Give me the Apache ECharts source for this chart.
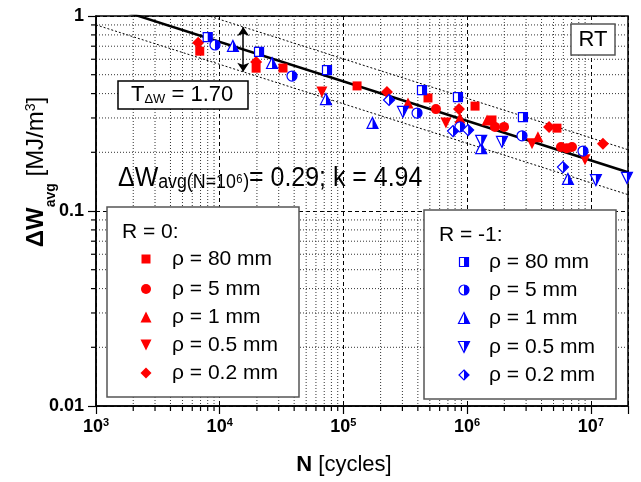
<!DOCTYPE html>
<html>
<head>
<meta charset="utf-8">
<script src="https://cdn.jsdelivr.net/npm/echarts@6/dist/echarts.min.js"></script>
<style>
  html, body { margin: 0; padding: 0; background: #fff; }
  #chart { width: 641px; height: 482px; }
</style>
</head>
<body>
<div id="chart"></div>
<script>
const FONT = 'Liberation Sans, Arial, sans-serif';

// axes
const xDecades = [1e3, 1e4, 1e5, 1e6, 1e7];
const yDecades = [0.01, 0.1, 1];
const yTickLabels = ['0.01', '0.1', '1'];
const minorSteps = [2, 3, 4, 5, 6, 7, 8, 9];

// fit parameters shown in the figure
const fitAvgAt1e6 = 0.29;
const fitK = 4.94;
const scatterT = 1.70;
const fitN = [1e3, 2e7];
const arrowN = 1.55e4;

// R = 0 (filled red)
const r0Rho80 = [[6.9e3, 0.66], [1.97e4, 0.54], [3.25e4, 0.541], [1.29e5, 0.438], [4.83e5, 0.38], [1.16e6, 0.345], [1.59e6, 0.293], [5.33e6, 0.266]];
const r0Rho5 = [[5.6e5, 0.333], [1.68e6, 0.27], [1.99e6, 0.27], [5.74e6, 0.213], [6.4e6, 0.21], [7.05e6, 0.213]];
const r0Rho1 = [[3.33e5, 0.358], [8.76e5, 0.30], [1.45e6, 0.293], [3.74e6, 0.24]];
const r0Rho05 = [[6.7e4, 0.408], [6.75e5, 0.283], [3.35e6, 0.221], [8.98e6, 0.183]];
const r0Rho02 = [[6.7e3, 0.73], [1.97e4, 0.581], [2.25e5, 0.408], [8.6e5, 0.333], [4.6e6, 0.27], [1.255e7, 0.221]];

// R = -1 (half filled blue)
const rm1Rho80 = [[8.0e3, 0.78], [2.08e4, 0.654], [7.37e4, 0.528], [4.32e5, 0.417], [8.44e5, 0.384], [2.83e6, 0.303]];
const rm1Rho5 = [[9.16e3, 0.71], [3.84e4, 0.492], [3.94e5, 0.318], [8.76e5, 0.27], [2.78e6, 0.243], [8.65e6, 0.203]];
const rm1Rho1 = [[1.28e4, 0.702], [2.65e4, 0.574], [7.23e4, 0.375], [1.72e5, 0.283], [1.3e6, 0.21], [6.54e6, 0.146]];
const rm1Rho05 = [[3.03e5, 0.322], [1.3e6, 0.229], [1.915e6, 0.226], [1.1e7, 0.144], [1.96e7, 0.148]];
const rm1Rho02 = [[2.34e5, 0.371], [7.7e5, 0.257], [1.02e6, 0.26], [5.96e6, 0.168]];

const rhoLabels = ['ρ = 80 mm', 'ρ = 5 mm', 'ρ = 1 mm', 'ρ = 0.5 mm', 'ρ = 0.2 mm'];
const shapes = ['square', 'circle', 'up', 'down', 'diamond'];

const xMinor = [];
xDecades.forEach(d => minorSteps.forEach(m => { if (d * m < 2e7) xMinor.push(d * m); }));
const yMinor = [];
yDecades.slice(0, 2).forEach(d => minorSteps.forEach(m => yMinor.push(d * m)));

const bandF = Math.sqrt(scatterT);
const fitW = (n, f) => f * fitAvgAt1e6 * Math.pow(n / 1e6, -1 / fitK);

const fullPath = {
  square: 'path://M0 0L10 0L10 10L0 10Z',
  circle: 'circle',
  up: 'path://M5 0L10 10L0 10Z',
  down: 'path://M0 0L10 0L5 10Z',
  diamond: 'path://M5 0L10 5L5 10L0 5Z'
};
// right half only; the zero-area stroke keeps the full bounding box
const halfPath = {
  square: 'path://M5 0L10 0L10 10L5 10Z M0 0L0 10',
  circle: 'path://M5 0A5 5 0 0 1 5 10Z M0 5L0 5.01',
  up: 'path://M5 0L10 10L5 10Z M0 10L0 9.99',
  down: 'path://M5 0L10 0L5 10Z M0 0L0 0.01',
  diamond: 'path://M5 0L10 5L5 10Z M0 5L0 5.01'
};
const redSymbol = { square: 'rect', circle: 'circle', up: 'triangle', down: fullPath.down, diamond: 'diamond' };
const redSize = { square: 9, circle: 10, up: 11, down: 11, diamond: 12 };
const blueSize = { square: 9, circle: 10, up: 11, down: 11, diamond: 11 };

const series = [];

// minor grid lines + minor ticks
series.push({
  type: 'custom', coordinateSystem: 'cartesian2d', silent: true, z: 1,
  data: xMinor.map(v => [v, 0.1]), encode: { x: 0, y: 1 },
  renderItem: (params, api) => {
    const v = api.value(0);
    const top = api.coord([v, 1]);
    const bot = api.coord([v, 0.01]);
    return { type: 'group', children: [
      { type: 'line', shape: { x1: top[0], y1: top[1], x2: bot[0], y2: bot[1] }, style: { stroke: '#333', lineWidth: 1, lineDash: [1, 2] } },
      { type: 'line', shape: { x1: bot[0], y1: bot[1], x2: bot[0], y2: bot[1] + 5 }, style: { stroke: '#000', lineWidth: 1.2 } }
    ] };
  }
});
series.push({
  type: 'custom', coordinateSystem: 'cartesian2d', silent: true, z: 1,
  data: yMinor.map(v => [1e5, v]), encode: { x: 0, y: 1 },
  renderItem: (params, api) => {
    const v = api.value(1);
    const l = api.coord([1e3, v]);
    const r = api.coord([2e7, v]);
    return { type: 'group', children: [
      { type: 'line', shape: { x1: l[0], y1: l[1], x2: r[0], y2: r[1] }, style: { stroke: '#333', lineWidth: 1, lineDash: [1, 2] } },
      { type: 'line', shape: { x1: l[0] - 5, y1: l[1], x2: l[0], y2: l[1] }, style: { stroke: '#000', lineWidth: 1.2 } }
    ] };
  }
});

// fit line and scatter band
series.push({
  type: 'line', silent: true, z: 3, symbol: 'none',
  data: fitN.map(n => [n, fitW(n, 1)]),
  lineStyle: { color: '#000', width: 2.5 },
  markLine: {
    silent: true, symbol: ['arrow', 'arrow'], symbolSize: 9,
    label: { show: false },
    lineStyle: { color: '#000', width: 1.5, type: 'solid' },
    data: [[{ coord: [arrowN, fitW(arrowN, 1 / bandF)] }, { coord: [arrowN, fitW(arrowN, bandF)] }]]
  }
});
[bandF, 1 / bandF].forEach(f => series.push({
  type: 'line', silent: true, z: 3, symbol: 'none',
  data: fitN.map(n => [n, fitW(n, f)]),
  lineStyle: { color: '#000', width: 1, type: [2, 2] }
}));

// R = 0
[r0Rho80, r0Rho5, r0Rho1, r0Rho05, r0Rho02].forEach((d, i) => series.push({
  type: 'scatter', silent: true, z: 4, data: d,
  symbol: redSymbol[shapes[i]], symbolSize: redSize[shapes[i]],
  itemStyle: { color: '#ff0000', opacity: 1 }
}));
// R = -1
[rm1Rho80, rm1Rho5, rm1Rho1, rm1Rho05, rm1Rho02].forEach((d, i) => {
  const s = shapes[i];
  series.push({
    type: 'scatter', silent: true, z: 5, data: d,
    symbol: fullPath[s], symbolSize: blueSize[s],
    itemStyle: { color: '#fff', borderColor: '#0000ff', borderWidth: 1.2, opacity: 1 }
  });
  series.push({
    type: 'scatter', silent: true, z: 5, data: d,
    symbol: halfPath[s], symbolSize: blueSize[s],
    itemStyle: { color: '#0000ff', borderWidth: 0, opacity: 1 }
  });
});

// legend symbols drawn as graphics
function legendSymbol(shape, cx, cy, s, color, half) {
  const h = s / 2;
  const out = [];
  const base = half ? { fill: '#fff', stroke: color, lineWidth: 1.2 } : { fill: color };
  if (shape === 'square') {
    out.push({ type: 'rect', shape: { x: cx - h, y: cy - h, width: s, height: s }, style: base });
    if (half) out.push({ type: 'rect', shape: { x: cx, y: cy - h, width: h, height: s }, style: { fill: color } });
  } else if (shape === 'circle') {
    out.push({ type: 'circle', shape: { cx, cy, r: h }, style: base });
    if (half) out.push({ type: 'sector', shape: { cx, cy, r: h, r0: 0, startAngle: -Math.PI / 2, endAngle: Math.PI / 2, clockwise: true }, style: { fill: color } });
  } else {
    const full = {
      up: [[cx, cy - h], [cx + h, cy + h], [cx - h, cy + h]],
      down: [[cx - h, cy - h], [cx + h, cy - h], [cx, cy + h]],
      diamond: [[cx, cy - h], [cx + h, cy], [cx, cy + h], [cx - h, cy]]
    }[shape];
    const right = {
      up: [[cx, cy - h], [cx + h, cy + h], [cx, cy + h]],
      down: [[cx, cy - h], [cx + h, cy - h], [cx, cy + h]],
      diamond: [[cx, cy - h], [cx + h, cy], [cx, cy + h]]
    }[shape];
    out.push({ type: 'polygon', shape: { points: full }, style: base });
    if (half) out.push({ type: 'polygon', shape: { points: right }, style: { fill: color } });
  }
  return out;
}

function plainText(x, y, text, size, align) {
  return {
    type: 'text', x, y, z: 102,
    style: { text, fill: '#000', font: size + 'px ' + FONT, align: align || 'left', textAlign: align || 'left', verticalAlign: 'middle', textVerticalAlign: 'middle' }
  };
}

const graphics = [];
function legendBox(x, y, w, h, title, tx, ty, symX, textX, ys, color, half) {
  graphics.push({ type: 'rect', z: 100, shape: { x, y, width: w, height: h }, style: { fill: '#fff', stroke: '#555', lineWidth: 1.5 } });
  graphics.push(plainText(tx, ty, title, 21));
  ys.forEach((yy, i) => {
    legendSymbol(shapes[i], symX, yy, (half ? blueSize : redSize)[shapes[i]] - (shapes[i] === 'diamond' ? 1 : 0), color, half)
      .forEach(g => graphics.push(Object.assign(g, { z: 101 })));
    graphics.push(plainText(textX, yy, rhoLabels[i], 21));
  });
}
legendBox(107, 207, 192, 190, 'R = 0:', 122, 232, 146, 172, [259, 289, 317, 345, 373], '#ff0000', false);
legendBox(424, 210, 192, 189, 'R = -1:', 439, 235, 464, 489, [262, 290, 318, 347, 375], '#0000ff', true);

// T box
graphics.push({ type: 'rect', z: 100, shape: { x: 118, y: 81, width: 130, height: 28 }, style: { fill: '#fff', stroke: '#000', lineWidth: 1.5 } });
graphics.push({
  type: 'text', x: 131, y: 95, z: 102,
  style: {
    text: '{a|T}{b|ΔW}{a| = 1.70}', verticalAlign: 'middle', textVerticalAlign: 'middle',
    rich: {
      a: { fontSize: 22, fontFamily: FONT, fill: '#000', lineHeight: 22, verticalAlign: 'bottom' },
      b: { fontSize: 13, fontFamily: FONT, fill: '#000', lineHeight: 13, verticalAlign: 'bottom' }
    }
  }
});
// RT box
graphics.push({ type: 'rect', z: 100, shape: { x: 571, y: 24, width: 44, height: 31 }, style: { fill: '#fff', stroke: '#555', lineWidth: 1.5 } });
graphics.push(plainText(593, 40, 'RT', 22, 'center'));

// fit annotation
graphics.push({
  type: 'text', x: 118, y: 178, z: 102, scaleX: 0.89,
  style: {
    text: '{a|ΔW}{b|avg(N=10⁶)}{a|= 0.29; k = 4.94}', verticalAlign: 'middle', textVerticalAlign: 'middle',
    rich: {
      a: { fontSize: 28, fontFamily: FONT, fill: '#000', lineHeight: 28, verticalAlign: 'bottom' },
      b: { fontSize: 20, fontFamily: FONT, fill: '#000', lineHeight: 20, verticalAlign: 'bottom' }
    }
  }
});

// axis titles
graphics.push({
  type: 'text', x: 344, y: 465, z: 102,
  style: {
    text: '{b|N}{n| [cycles]}', align: 'center', textAlign: 'center', verticalAlign: 'middle', textVerticalAlign: 'middle',
    rich: {
      b: { fontSize: 22, fontFamily: FONT, fontWeight: 'bold', fill: '#000' },
      n: { fontSize: 22, fontFamily: FONT, fill: '#000' }
    }
  }
});
graphics.push({
  type: 'text', x: 41, y: 172, z: 102, rotation: Math.PI / 2,
  style: {
    text: '{a|ΔW}{s|avg}{n| [MJ/m}{p|3}{n|]}', align: 'center', textAlign: 'center', verticalAlign: 'middle', textVerticalAlign: 'middle',
    rich: {
      a: { fontSize: 24, fontFamily: FONT, fontWeight: 'bold', fill: '#000', lineHeight: 24, verticalAlign: 'top' },
      s: { fontSize: 14, fontFamily: FONT, fontWeight: 'bold', fill: '#000', lineHeight: 34, verticalAlign: 'bottom' },
      n: { fontSize: 24, fontFamily: FONT, fill: '#000', lineHeight: 24, verticalAlign: 'top' },
      p: { fontSize: 14, fontFamily: FONT, fill: '#000', lineHeight: 14, verticalAlign: 'top' }
    }
  }
});

const chart = echarts.init(document.getElementById('chart'));
chart.setOption({
  animation: false,
  backgroundColor: '#fff',
  grid: { left: 96, top: 16, right: 13, bottom: 76, show: true, borderColor: '#000', borderWidth: 1.5, outerBoundsMode: 'none' },
  xAxis: {
    type: 'log', logBase: 10, min: 1e3, max: 2e7,
    axisLine: { show: true, lineStyle: { color: '#000', width: 1.5 } },
    axisTick: { show: true, length: 8, lineStyle: { color: '#000', width: 1.2 } },
    splitLine: { show: true, lineStyle: { color: '#000', width: 1, type: [4, 3] } },
    axisLabel: {
      margin: 11, color: '#000',
      formatter: v => {
        const e = Math.round(Math.log10(v));
        if (Math.abs(Math.log10(v) - e) > 1e-6) return '';
        return '{b|10}{s|' + e + '}';
      },
      rich: {
        b: { fontSize: 18, fontWeight: 'bold', fontFamily: FONT, color: '#000', lineHeight: 20 },
        s: { fontSize: 11, fontWeight: 'bold', fontFamily: FONT, color: '#000', lineHeight: 11, verticalAlign: 'top' }
      }
    }
  },
  yAxis: {
    type: 'log', logBase: 10, min: 0.01, max: 1,
    axisLine: { show: true, lineStyle: { color: '#000', width: 1.5 } },
    axisTick: { show: true, length: 8, lineStyle: { color: '#000', width: 1.2 } },
    splitLine: { show: true, lineStyle: { color: '#000', width: 1, type: [4, 3] } },
    axisLabel: {
      margin: 12, color: '#000', fontSize: 18, fontWeight: 'bold', fontFamily: FONT,
      formatter: v => {
        const i = yDecades.findIndex(d => Math.abs(Math.log10(d) - Math.log10(v)) < 1e-6);
        return i < 0 ? '' : yTickLabels[i];
      }
    }
  },
  series,
  graphic: { elements: graphics }
});
</script>
</body>
</html>
